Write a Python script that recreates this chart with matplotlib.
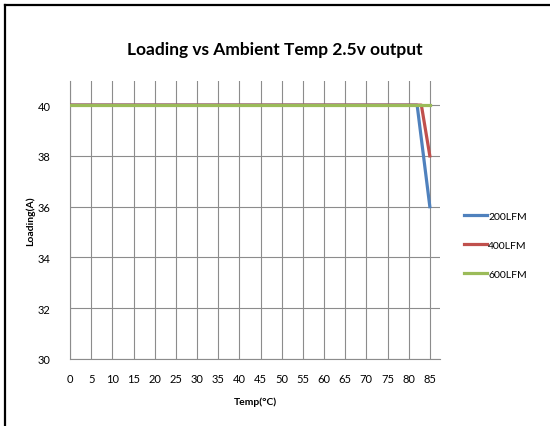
import matplotlib.pyplot as plt
from matplotlib.lines import Line2D

plt.rcParams['font.family'] = ['Lato', 'DejaVu Sans']

temps = [0, 5, 10, 15, 20, 25, 30, 35, 40, 45, 50, 55, 60, 65, 70, 75, 80, 85]
x_200 = [0, 82, 85]
y_200 = [40, 40, 36]
x_400 = [0, 83, 85]
y_400 = [40, 40, 38]
x_600 = [0, 85]
y_600 = [40, 40]
yticks = [30, 32, 34, 36, 38, 40]

fig = plt.figure(figsize=(5.5, 4.27), dpi=100)
ax = fig.add_axes([70 / 550, 1 - 360 / 427, 370 / 550, 278 / 427])

ax.plot(x_200, y_200, color='#4F81BD', lw=2.3, label='200LFM', zorder=3)
ax.plot(x_400, y_400, color='#C0504D', lw=2.3, label='400LFM', zorder=3)
ax.plot(x_600, y_600, color='#9BBB59', lw=2.3, label='600LFM', zorder=4)

ax.set_xlim(0, 87.4)
ax.set_ylim(30, 40.95)
ax.set_xticks(temps)
ax.set_yticks(yticks)
ax.tick_params(axis='x', length=0, labelsize=8, pad=10)
ax.tick_params(axis='y', length=0, labelsize=8, pad=14)
ax.grid(True, color='#8c8c8c', lw=0.8)
ax.set_axisbelow(True)
for s in ['top', 'right']:
    ax.spines[s].set_visible(False)
for s in ['left', 'bottom']:
    ax.spines[s].set_color('#8c8c8c')
    ax.spines[s].set_linewidth(0.8)

ax.set_xlabel('Temp(°C)', fontsize=7.5, fontweight='bold', labelpad=9)
ax.set_ylabel('Loading(A)', fontsize=7.5, fontweight='bold', labelpad=2)

fig.text(0.5, 1 - 50 / 427, 'Loading vs Ambient Temp 2.5v output',
         ha='center', va='center', fontsize=12.5, fontweight='bold')

ax.legend(loc='center left', bbox_to_anchor=(1.04, 0.41), frameon=False,
          fontsize=7.5, handlelength=2.2, handletextpad=0.1, labelspacing=1.9)

# outer frame (top and left edges visible in the reference)
fig.add_artist(Line2D([5 / 550, 5 / 550], [0, 1 - 6 / 427], transform=fig.transFigure,
                      color='black', lw=1.6))
fig.add_artist(Line2D([5 / 550, 1], [1 - 6 / 427, 1 - 6 / 427], transform=fig.transFigure,
                      color='black', lw=1.6))

fig.savefig('out.png', dpi=100)
